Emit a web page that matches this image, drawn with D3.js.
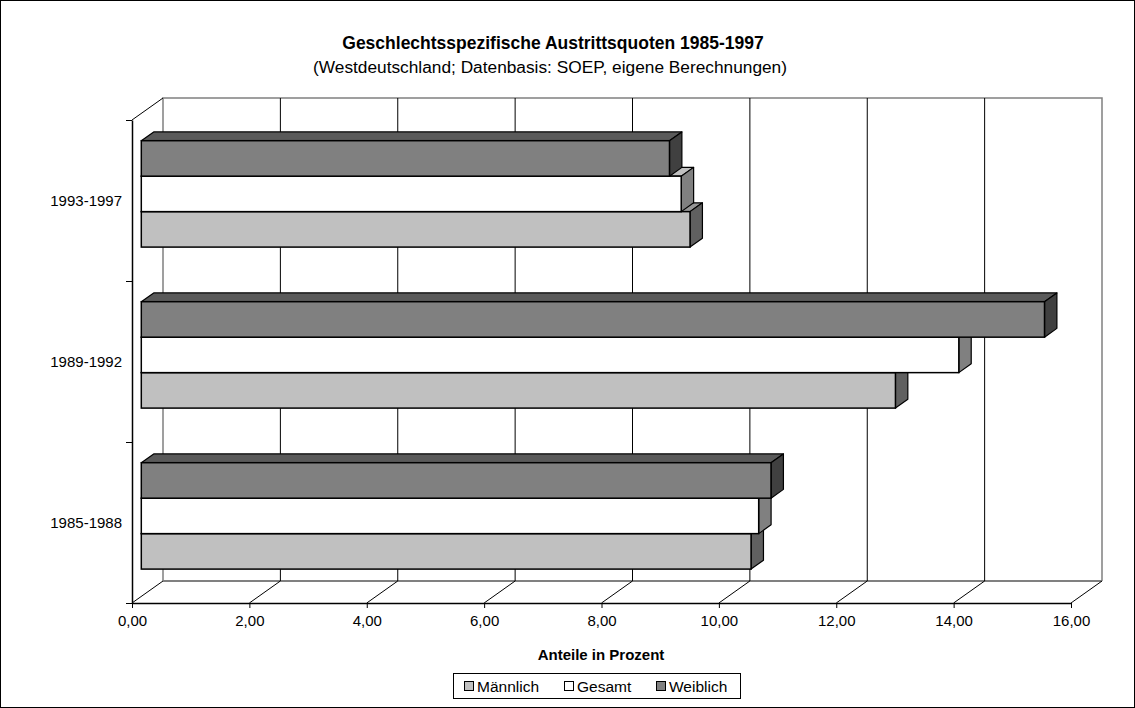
<!DOCTYPE html>
<html>
<head>
<meta charset="utf-8">
<script src="https://cdn.jsdelivr.net/npm/d3@7"></script>
<style>
  body { margin: 0; background: #fff; }
  svg { display: block; font-family: Arial, "Liberation Sans", sans-serif; }
</style>
</head>
<body>
<svg id="chart" width="1135" height="708"></svg>
<script>
// data
var categories = ["1985-1988", "1989-1992", "1993-1997"];
var maennlich = [10.39, 12.85, 9.35];
var gesamt = [10.52, 13.93, 9.20];
var weiblich = [10.73, 15.39, 9.00];
var seriesNames = ["Männlich", "Gesamt", "Weiblich"];
var xTicks = [0, 2, 4, 6, 8, 10, 12, 14, 16];

var svg = d3.select("#chart");

// outer frame
svg.append("rect")
    .attr("x", 0.5).attr("y", 0.5)
    .attr("width", 1134).attr("height", 707)
    .attr("fill", "#fff").attr("stroke", "#000");

var plotLeft = 132, plotRight = 1071, plotTop = 120, plotBottom = 603;
var depthX = 31, depthY = -22;

var x = d3.scaleLinear().domain([0, 16]).range([plotLeft, plotRight]);
var y = d3.scaleBand().domain(categories.slice().reverse()).range([plotTop, plotBottom]);
var yTick = d3.scaleLinear().domain([0, categories.length]).range([plotBottom, plotTop]);
// bars top-down: Weiblich, Gesamt, Männlich
var inner = d3.scaleBand().domain(["Weiblich", "Gesamt", "Männlich"])
    .range([0, y.bandwidth()]).paddingOuter(0.77);

var styles = {
    "Männlich": { front: "#c0c0c0", top: "#969696", side: "#606060" },
    "Gesamt":   { front: "#ffffff", top: "#c0c0c0", side: "#808080" },
    "Weiblich": { front: "#808080", top: "#5a5a5a", side: "#404040" }
};

// back wall + floor
var walls = svg.append("g");
walls.append("path")
    .attr("d", "M" + (plotLeft + depthX) + "," + (plotBottom + depthY) +
        "V" + (plotTop + depthY) + "H" + (plotRight + depthX) + "V" + (plotBottom + depthY))
    .attr("fill", "none").attr("stroke", "#808080").attr("stroke-width", 1.5);
walls.append("line")
    .attr("x1", plotLeft + depthX).attr("y1", plotBottom + depthY)
    .attr("x2", plotRight + depthX).attr("y2", plotBottom + depthY)
    .attr("stroke", "#808080").attr("stroke-width", 2);
walls.append("line")
    .attr("x1", plotLeft).attr("y1", plotTop)
    .attr("x2", plotLeft + depthX).attr("y2", plotTop + depthY)
    .attr("stroke", "#000");

// vertical gridlines on back wall
walls.selectAll(".grid")
    .data(xTicks.slice(1, -1))
    .enter().append("line")
    .attr("class", "grid")
    .attr("x1", function (d) { return x(d) + depthX; })
    .attr("x2", function (d) { return x(d) + depthX; })
    .attr("y1", plotTop + depthY)
    .attr("y2", plotBottom + depthY)
    .attr("stroke", "#000").attr("stroke-width", 1);

// floor diagonals
walls.selectAll(".floor")
    .data(xTicks)
    .enter().append("line")
    .attr("class", "floor")
    .attr("x1", function (d) { return x(d); })
    .attr("y1", plotBottom)
    .attr("x2", function (d) { return x(d) + depthX; })
    .attr("y2", plotBottom + depthY)
    .attr("stroke", "#000").attr("stroke-width", 1);

// bars
var f0 = 0.3, f1 = 0.7;
var ox = depthX * f0, oy = depthY * f0;
var dx = depthX * (f1 - f0), dy = depthY * (f1 - f0);
var x0 = x(0) + ox;

var rows = [];
categories.forEach(function (c, i) {
    // bottom bar first so upper bars cover its top face
    [["Männlich", maennlich[i]], ["Gesamt", gesamt[i]], ["Weiblich", weiblich[i]]].forEach(function (s) {
        rows.push({ cat: c, name: s[0], value: s[1] });
    });
});

var bar = svg.append("g").selectAll("g")
    .data(rows)
    .enter().append("g");

bar.each(function (d) {
    var g = d3.select(this);
    var yt = y(d.cat) + inner(d.name) + oy;
    var h = inner.bandwidth();
    var xr = x(d.value) + ox;
    var st = styles[d.name];
    g.append("path")
        .attr("d", "M" + x0 + "," + yt + "L" + (x0 + dx) + "," + (yt + dy) +
            "L" + (xr + dx) + "," + (yt + dy) + "L" + xr + "," + yt + "Z")
        .attr("fill", st.top).attr("stroke", "#000").attr("stroke-width", 1.2)
        .attr("stroke-linejoin", "round");
    g.append("path")
        .attr("d", "M" + xr + "," + yt + "L" + (xr + dx) + "," + (yt + dy) +
            "L" + (xr + dx) + "," + (yt + dy + h) + "L" + xr + "," + (yt + h) + "Z")
        .attr("fill", st.side).attr("stroke", "#000").attr("stroke-width", 1.2)
        .attr("stroke-linejoin", "round");
    g.append("rect")
        .attr("x", x0).attr("y", yt)
        .attr("width", xr - x0).attr("height", h)
        .attr("fill", st.front).attr("stroke", "#000").attr("stroke-width", 1.5);
});

// left axis
var yAxis = svg.append("g")
    .attr("transform", "translate(" + plotLeft + ",0)")
    .call(d3.axisLeft(yTick).tickValues([0, 1, 2, 3]).tickFormat("").tickSize(6).tickSizeOuter(0));
yAxis.select(".domain").attr("stroke", "#000").attr("stroke-width", 1.5);

svg.append("g").selectAll("text")
    .data(categories)
    .enter().append("text")
    .attr("x", plotLeft - 10)
    .attr("y", function (d) { return y(d) + y.bandwidth() / 2; })
    .attr("dy", "0.35em")
    .attr("text-anchor", "end")
    .attr("font-size", 15)
    .text(function (d) { return d; });

// bottom axis
var xAxis = svg.append("g")
    .attr("transform", "translate(0," + plotBottom + ")")
    .call(d3.axisBottom(x).tickValues(xTicks).tickSize(5).tickSizeOuter(0)
        .tickFormat(function (d) { return d3.format(".2f")(d).replace(".", ","); }));
xAxis.select(".domain").attr("stroke", "#000").attr("stroke-width", 1.5);
xAxis.selectAll("text")
    .attr("font-size", 15).attr("font-family", "Arial, 'Liberation Sans', sans-serif")
    .attr("fill", "#000").attr("y", 12);

svg.append("text")
    .attr("x", 601).attr("y", 660)
    .attr("text-anchor", "middle")
    .attr("font-size", 15).attr("font-weight", "bold")
    .text("Anteile in Prozent");

// title
svg.append("text")
    .attr("x", 553).attr("y", 49)
    .attr("text-anchor", "middle")
    .attr("font-size", 17.5).attr("font-weight", "bold")
    .text("Geschlechtsspezifische Austrittsquoten 1985-1997");
svg.append("text")
    .attr("x", 550).attr("y", 73)
    .attr("text-anchor", "middle")
    .attr("font-size", 17.3)
    .text("(Westdeutschland; Datenbasis: SOEP, eigene Berechnungen)");

// legend
var legend = svg.append("g");
legend.append("rect")
    .attr("x", 453.5).attr("y", 673.5)
    .attr("width", 287).attr("height", 25)
    .attr("fill", "#fff").attr("stroke", "#000");
var legendX = [464, 564, 656];
var item = legend.selectAll(".item")
    .data(seriesNames)
    .enter().append("g")
    .attr("class", "item")
    .attr("transform", function (d, i) { return "translate(" + legendX[i] + ",681)"; });
item.append("rect")
    .attr("x", 0.5).attr("y", 0.5)
    .attr("width", 9).attr("height", 9)
    .attr("fill", function (d) { return styles[d].front; })
    .attr("stroke", "#000");
item.append("text")
    .attr("x", 13).attr("y", 5.5)
    .attr("dy", "0.35em")
    .attr("font-size", 15.5)
    .text(function (d) { return d; });
</script>
</body>
</html>
